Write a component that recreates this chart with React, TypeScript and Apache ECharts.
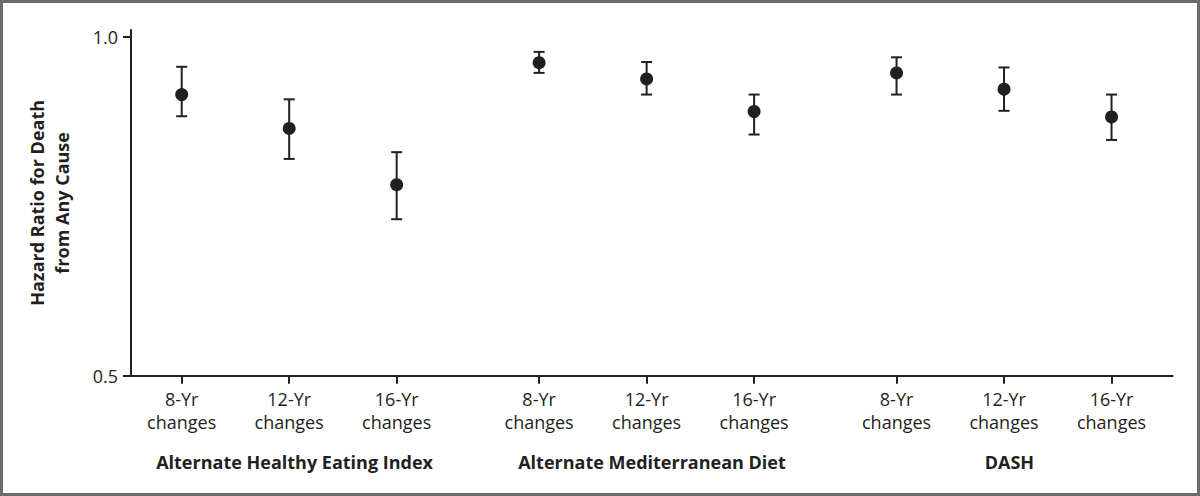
import React, { useEffect, useRef } from "react";
import * as echarts from "echarts";

// ---- data ----
const groups = ["Alternate Healthy Eating Index", "Alternate Mediterranean Diet", "DASH"];
const periods = ["8-Yr\nchanges", "12-Yr\nchanges", "16-Yr\nchanges"];
const hrAHEI = [0.915, 0.865, 0.782];
const loAHEI = [0.883, 0.82, 0.731];
const hiAHEI = [0.956, 0.908, 0.83];
const hrAMED = [0.962, 0.938, 0.89];
const loAMED = [0.947, 0.915, 0.856];
const hiAMED = [0.978, 0.963, 0.915];
const hrDASH = [0.947, 0.923, 0.882];
const loDASH = [0.915, 0.891, 0.848];
const hiDASH = [0.97, 0.955, 0.915];
const yTicks = [0.5, 1.0];

const hrAll = [hrAHEI, hrAMED, hrDASH];
const loAll = [loAHEI, loAMED, loDASH];
const hiAll = [hiAHEI, hiAMED, hiDASH];

// layout: group spacing on the x value axis
const GROUP_STEP = 3.325;
const posOf = (g: number, i: number) => g * GROUP_STEP + i;

const FONT = "'Open Sans', 'DejaVu Sans', sans-serif";
const INK = "#231f20";

export default function App() {
  const ref = useRef<HTMLDivElement>(null);
  useEffect(() => {
    const chart = echarts.init(ref.current!, null, { renderer: "svg" });

    const tickPositions: number[] = [];
    const tickLabels: string[] = [];
    const points: number[][] = [];
    const bars: number[][] = [];
    groups.forEach((_, g) => {
      periods.forEach((p, i) => {
        const x = posOf(g, i);
        tickPositions.push(x);
        tickLabels.push(p);
        points.push([x, hrAll[g][i]]);
        bars.push([x, loAll[g][i], hiAll[g][i]]);
      });
    });
    const groupPositions = groups.map((_, g) => posOf(g, 1) + 0.05);

    const nearest = (arr: number[], v: number) => {
      let best = 0;
      arr.forEach((a, k) => {
        if (Math.abs(a - v) < Math.abs(arr[best] - v)) best = k;
      });
      return best;
    };

    chart.setOption({
      animation: false,
      backgroundColor: "#ffffff",
      textStyle: { fontFamily: FONT },
      graphic: [
        {
          type: "rect",
          shape: { x: 1.5, y: 1.5, width: 1197, height: 493 },
          style: { fill: "none", stroke: "#6b6c6e", lineWidth: 3 },
          silent: true,
        },
      ],
      grid: { left: 131, right: 27.3, top: 30, bottom: 120.3, containLabel: false },
      xAxis: [
        {
          type: "value",
          min: -0.4716,
          max: 9.219,
          splitLine: { show: false },
          axisLine: { show: true, onZero: false, lineStyle: { color: INK, width: 2 } },
          axisTick: {
            show: true,
            customValues: tickPositions,
            length: 8,
            lineStyle: { color: INK, width: 2 },
          },
          axisLabel: {
            show: true,
            customValues: tickPositions,
            margin: 12,
            fontSize: 18,
            lineHeight: 23,
            color: INK,
            fontFamily: FONT,
            formatter: (v: number) => tickLabels[nearest(tickPositions, v)],
          },
        },
        {
          type: "value",
          position: "bottom",
          min: -0.4716,
          max: 9.219,
          splitLine: { show: false },
          axisLine: { show: false },
          axisTick: { show: false },
          axisLabel: {
            show: true,
            customValues: groupPositions,
            margin: 75,
            fontSize: 18,
            lineHeight: 23,
            fontWeight: "bold",
            color: INK,
            fontFamily: FONT,
            formatter: (v: number) => groups[nearest(groupPositions, v)],
          },
        },
      ],
      yAxis: {
        type: "value",
        min: 0.5,
        max: 1.0103,
        splitLine: { show: false },
        axisLine: { show: true, onZero: false, lineStyle: { color: INK, width: 2 } },
        axisTick: {
          show: true,
          customValues: yTicks,
          length: 8,
          lineStyle: { color: INK, width: 2 },
        },
        axisLabel: {
          show: true,
          customValues: yTicks,
          margin: 13,
          fontSize: 18,
          color: INK,
          fontFamily: FONT,
          formatter: (v: number) => v.toFixed(1),
        },
        name: "Hazard Ratio for Death\nfrom Any Cause",
        nameLocation: "middle",
        nameRotate: 90,
        nameGap: 57,
        nameTextStyle: {
          fontSize: 18,
          fontWeight: "bold",
          lineHeight: 25,
          color: INK,
          fontFamily: FONT,
          align: "center",
        },
      },
      series: [
        {
          type: "custom",
          data: bars,
          renderItem: (params: any, api: any) => {
            const x = api.value(0);
            const lo = api.coord([x, api.value(1)]);
            const hi = api.coord([x, api.value(2)]);
            const half = 5.5;
            const style = { stroke: INK, lineWidth: 2 };
            return {
              type: "group",
              children: [
                { type: "line", shape: { x1: lo[0], y1: lo[1], x2: hi[0], y2: hi[1] }, style },
                { type: "line", shape: { x1: lo[0] - half, y1: lo[1], x2: lo[0] + half, y2: lo[1] }, style },
                { type: "line", shape: { x1: hi[0] - half, y1: hi[1], x2: hi[0] + half, y2: hi[1] }, style },
              ],
            };
          },
          silent: true,
          z: 2,
        },
        {
          type: "scatter",
          data: points,
          symbol: "circle",
          symbolSize: 13,
          itemStyle: { color: INK, opacity: 1 },
          silent: true,
          z: 3,
        },
      ],
    });
    return () => chart.dispose();
  }, []);
  return (
    <div
      ref={ref}
      style={{ position: "fixed", left: 0, top: 0, width: 1200, height: 496, background: "#fff" }}
    />
  );
}
